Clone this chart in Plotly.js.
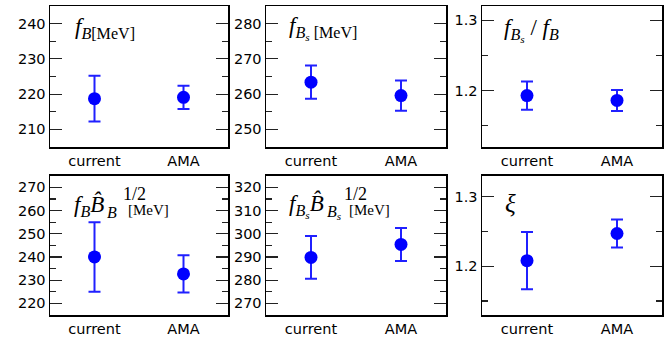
<!DOCTYPE html>
<html><head>
<script src="https://cdn.plot.ly/plotly-3.0.1.min.js"></script>
<style>body{margin:0;background:#fff}</style>
</head><body>
<div id="c" style="width:669px;height:338px"></div>
<script>
const categories = ["current", "AMA"];
const fB = [218.7, 219.1];
const fBErr = [6.5, 3.3];
const fBs = [263.4, 259.6];
const fBsErr = [4.7, 4.3];
const ratio = [1.193, 1.186];
const ratioErr = [0.020, 0.015];
const fBhatB = [240.0, 232.7];
const fBhatBErr = [15.0, 8.0];
const fBshatBs = [289.8, 295.4];
const fBshatBsErr = [9.2, 7.1];
const xi = [1.208, 1.247];
const xiErr = [0.041, 0.020];

const panels = [
  {y: fB, e: fBErr, range: [205, 245], dtick: 10},
  {y: fBs, e: fBsErr, range: [245, 285], dtick: 10},
  {y: ratio, e: ratioErr, range: [1.12, 1.32], dtick: 0.1},
  {y: fBhatB, e: fBhatBErr, range: [215, 275], dtick: 10},
  {y: fBshatBs, e: fBshatBsErr, range: [265, 325], dtick: 10},
  {y: xi, e: xiErr, range: [1.13, 1.33], dtick: 0.1}
];

const W = 669, H = 338;
const xPix = [[50, 228], [266, 446], [482, 662]];
const yPix = [[6, 147], [175.7, 315]];

const traces = [];
const layout = {
  width: W, height: H, margin: {l: 0, r: 0, t: 0, b: 0},
  paper_bgcolor: '#fff', plot_bgcolor: '#fff', showlegend: false,
  annotations: []
};
const tickFont = {family: 'DejaVu Sans', size: 14.5, color: '#000'};

panels.forEach((p, i) => {
  const n = i + 1;
  const sfx = n === 1 ? '' : String(n);
  const col = i % 3, row = Math.floor(i / 3);
  traces.push({
    x: categories, y: p.y, xaxis: 'x' + sfx, yaxis: 'y' + sfx,
    type: 'scatter', mode: 'markers',
    marker: {color: '#0000ff', size: 13},
    error_y: {type: 'data', array: p.e, visible: true, color: '#2020ff', thickness: 2, width: 6},
    hoverinfo: 'skip'
  });
  layout['xaxis' + sfx] = {
    domain: [xPix[col][0] / W, xPix[col][1] / W],
    anchor: 'y' + sfx, type: 'category', range: [-0.5, 1.5],
    showline: true, mirror: true, linecolor: '#000', linewidth: 1.5,
    ticks: '', showgrid: false, zeroline: false, tickfont: tickFont
  };
  layout['yaxis' + sfx] = {
    domain: [(H - yPix[row][1]) / H, (H - yPix[row][0]) / H],
    anchor: 'x' + sfx, range: p.range, dtick: p.dtick,
    showline: true, mirror: 'ticks', linecolor: '#000', linewidth: 1.5,
    ticks: 'inside', ticklen: 12, tickwidth: 1.2, tickcolor: '#222',
    minor: {ticks: 'inside', ticklen: 6, tickwidth: 1.2, tickcolor: '#222', dtick: p.dtick / 2, showgrid: false},
    showgrid: false, zeroline: false, tickfont: tickFont
  };
});

// label placement helper: pixel position -> axis-domain fraction of panel i
function ann(i, px, py, text, size) {
  const col = i % 3, row = Math.floor(i / 3);
  const sfx = i === 0 ? '' : String(i + 1);
  const x0 = xPix[col][0], x1 = xPix[col][1], y0 = yPix[row][0], y1 = yPix[row][1];
  layout.annotations.push({
    xref: 'x' + sfx + ' domain', yref: 'y' + sfx + ' domain',
    x: (px - x0) / (x1 - x0), y: (y1 - py) / (y1 - y0),
    xanchor: 'left', yanchor: 'middle', showarrow: false,
    text: text, font: {family: 'Liberation Serif', size: size, color: '#000'}
  });
}
ann(0, 73, 28, "<i>f</i><sub><i>B</i>[MeV]</sub>", 23);
ann(1, 287, 28, "<i>f</i><sub><i>B<sub>s</sub></i> [MeV]</sub>", 23);
ann(2, 502, 30, "<i>f</i><sub><i>B<sub>s</sub></i></sub> / <i>f</i><sub><i>B</i></sub>", 23);
ann(3, 72, 206, "<i>f</i><sub><i>B</i></sub><i>B̂</i>", 23);
ann(3, 105, 213, "<i>B</i>", 16);
ann(3, 121, 194, "1/2", 18);
ann(3, 126, 210, "[MeV]", 15);
ann(4, 287, 206, "<i>f</i><sub><i>B<sub>s</sub></i></sub><i>B̂</i>", 23);
ann(4, 325, 213, "<i>B<sub>s</sub></i>", 16);
ann(4, 342, 194, "1/2", 18);
ann(4, 347, 210, "[MeV]", 15);
ann(5, 503, 204, "<i>ξ</i>", 25);

Plotly.newPlot('c', traces, layout, {staticPlot: true});
</script>
</body></html>
